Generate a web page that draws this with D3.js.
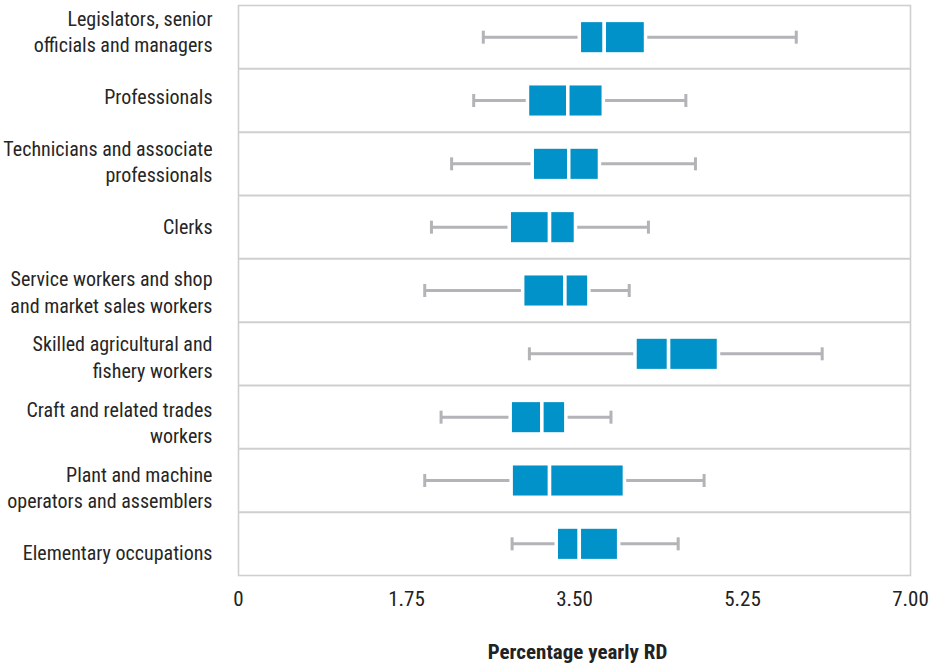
<!DOCTYPE html>
<html>
<head>
<meta charset="utf-8">
<script src="https://cdn.jsdelivr.net/npm/d3@7"></script>
<style>
  html, body { margin: 0; padding: 0; background: #fff; }
  svg { display: block; }
  .lbl { font-family: "Liberation Sans Narrow", "Arial Narrow", "Roboto", sans-serif; font-stretch: condensed; }
</style>
</head>
<body>
<svg id="chart" width="942" height="666"></svg>
<script>
const categories = [
  ["Legislators, senior", "officials and managers"],
  ["Professionals"],
  ["Technicians and associate", "professionals"],
  ["Clerks"],
  ["Service workers and shop", "and market sales workers"],
  ["Skilled agricultural and", "fishery workers"],
  ["Craft and related trades", "workers"],
  ["Plant and machine", "operators and assemblers"],
  ["Elementary occupations"]
];
const whiskerLow  = [2.55, 2.45, 2.22, 2.01, 1.94, 3.03, 2.11, 1.94, 2.85];
const q1          = [3.55, 3.01, 3.06, 2.82, 2.96, 4.13, 2.83, 2.84, 3.31];
const median      = [3.81, 3.43, 3.44, 3.24, 3.40, 4.48, 3.16, 3.24, 3.55];
const q3          = [4.24, 3.80, 3.76, 3.51, 3.65, 5.00, 3.41, 4.02, 3.96];
const whiskerHigh = [5.81, 4.66, 4.76, 4.27, 4.07, 6.08, 3.88, 4.85, 4.58];
const xTicks = [0, 1.75, 3.5, 5.25, 7];
const xTickLabels = ["0", "1.75", "3.50", "5.25", "7.00"];
const xTitle = "Percentage yearly RD";

const keys = categories.map((c, i) => "c" + i);
const svg = d3.select("#chart");

const x = d3.scaleLinear().domain([0, 7]).range([238.5, 910.5]);
const y = d3.scaleBand().domain(keys).range([5.5, 575.5]).padding(0);
const yLab = d3.scaleBand().domain(keys).range([-0.5, 585.4]).padding(0);

const blue = "#0192c9";
const grey = "#b3b3b8";
const lineCol = "#cfcfcf";

// frame
svg.append("rect")
  .attr("x", x(0)).attr("y", y.range()[0])
  .attr("width", x(7) - x(0)).attr("height", y.range()[1] - y.range()[0])
  .attr("fill", "none").attr("stroke", lineCol).attr("stroke-width", 1.6);

// row separators
svg.append("g").selectAll("line").data(keys.slice(1)).join("line")
  .attr("x1", x(0)).attr("x2", x(7))
  .attr("y1", d => y(d)).attr("y2", d => y(d))
  .attr("stroke", lineCol).attr("stroke-width", 2);

const rows = svg.append("g").selectAll("g").data(keys).join("g")
  .attr("transform", d => `translate(0,${y(d) + y.bandwidth() / 2})`);

// whiskers
rows.append("line")
  .attr("x1", (d, i) => x(whiskerLow[i])).attr("x2", (d, i) => x(whiskerHigh[i]))
  .attr("y1", 0).attr("y2", 0)
  .attr("stroke", grey).attr("stroke-width", 3);
rows.append("line")
  .attr("x1", (d, i) => x(whiskerLow[i])).attr("x2", (d, i) => x(whiskerLow[i]))
  .attr("y1", -6.5).attr("y2", 6.5)
  .attr("stroke", grey).attr("stroke-width", 3);
rows.append("line")
  .attr("x1", (d, i) => x(whiskerHigh[i])).attr("x2", (d, i) => x(whiskerHigh[i]))
  .attr("y1", -6.5).attr("y2", 6.5)
  .attr("stroke", grey).attr("stroke-width", 3);

const bh = y.bandwidth() * 0.53;
// lower box
rows.append("rect")
  .attr("x", (d, i) => x(q1[i])).attr("y", -bh / 2)
  .attr("width", (d, i) => x(median[i]) - x(q1[i])).attr("height", bh)
  .attr("fill", blue).attr("stroke", "#fff").attr("stroke-width", 3.5);
// upper box
rows.append("rect")
  .attr("x", (d, i) => x(median[i])).attr("y", -bh / 2)
  .attr("width", (d, i) => x(q3[i]) - x(median[i])).attr("height", bh)
  .attr("fill", blue).attr("stroke", "#fff").attr("stroke-width", 3.5);

// category labels
const lab = svg.append("g").attr("class", "lbl").attr("font-size", 20).attr("fill", "#262626")
  .selectAll("text").data(keys).join("text")
  .attr("text-anchor", "end")
  .attr("transform", d => `translate(212.5,${yLab(d) + yLab.bandwidth() / 2})`);
lab.each(function(d, i) {
  const lines = categories[i];
  const lh = 26.3;
  const t = d3.select(this);
  lines.forEach((s, j) => {
    t.append("tspan").attr("x", 0)
      .attr("y", (j - (lines.length - 1) / 2) * lh + 7)
      .text(s);
  });
});

// x axis tick labels
svg.append("g").attr("class", "lbl").attr("font-size", 21).attr("fill", "#222")
  .selectAll("text").data(xTicks).join("text")
  .attr("x", d => x(d)).attr("y", 606)
  .attr("text-anchor", "middle")
  .text((d, i) => xTickLabels[i]);

svg.append("text").attr("class", "lbl")
  .attr("x", (x(0) + x(7)) / 2 + 3).attr("y", 659)
  .attr("text-anchor", "middle").attr("font-size", 21).attr("font-weight", "bold").attr("fill", "#222")
  .text(xTitle);
</script>
</body>
</html>
